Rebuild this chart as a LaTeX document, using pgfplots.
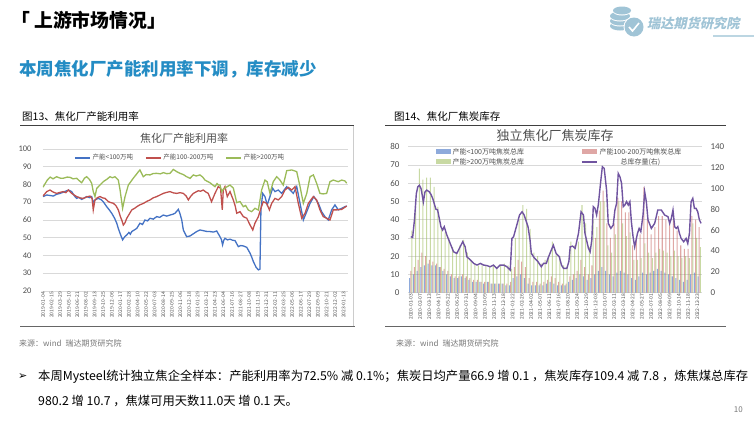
\documentclass[border=0pt]{standalone}
\usepackage{fontspec}
\setmainfont{Noto Sans CJK SC}
\newfontfamily\lat{Carlito}
\newfontfamily\dv{DejaVu Sans}
\usepackage{pgfplots}
\pgfplotsset{compat=1.18}
\usepackage{pgfplotstable}
\definecolor{subblue}{RGB}{36,140,196}
\definecolor{logoc}{RGB}{160,196,214}
\definecolor{tickgray}{RGB}{80,80,80}
\definecolor{gridgray}{RGB}{217,217,217}
\definecolor{srcgray}{RGB}{120,120,120}
\definecolor{lblue}{RGB}{68,114,196}
\definecolor{lred}{RGB}{192,80,77}
\definecolor{lgreen}{RGB}{155,187,89}
\definecolor{purp}{RGB}{112,84,160}
\pgfplotstableread{
x b r g
0 8 12 34
2 10 14 50
4 12 18 68
6 14 22 62
8 15 20 63
10 16 18 63
12 15 17 58
14 15 16 47
16 14 14 36
18 12 13 33
20 10 12 30
22 9 10 25
24 8 9 22
26 8 9 26
28 9 10 29
30 8 9 22
32 7 8 18
34 6 7 16
36 6 7 15
38 6 6 15
40 5 6 15
42 6 6 14
44 5 5 15
46 5 5 14
48 5 5 15
50 5 5 16
52 4 5 15
54 4 6 13
56 8 14 30
58 9 18 40
60 10 17 48
62 8 14 46
64 5 8 35
66 4 6 22
68 4 6 20
70 4 5 16
72 4 6 18
74 5 7 20
76 6 9 28
78 5 8 21
80 4 6 20
82 4 5 15
84 4 5 14
86 6 9 28
88 7 10 26
90 8 12 28
92 10 18 48
94 9 14 38
96 7 10 25
98 8 15 40
100 10 30 36
102 12 45 50
104 14 56 50
106 12 38 26
108 10 30 22
110 9 38 32
112 11 52 50
114 12 50 38
116 11 44 31
118 10 44 33
120 8 26 18
122 7 30 18
124 9 32 19
126 11 58 27
128 10 40 22
130 11 32 19
132 12 36 22
134 13 42 24
136 12 42 23
138 11 40 22
140 10 38 20
142 9 40 23
144 8 34 20
146 7 26 19
148 6 24 20
150 7 24 19
152 10 42 38
154 11 40 30
156 9 36 25
}\rtab
\begin{document}
\begin{tikzpicture}[x=1pt,y=1pt]
\fill[white] (0,0) rectangle (754,-421);
\path[use as bounding box] (0,0) rectangle (754,-421);
% header
\node[anchor=west,inner sep=0pt,font=\bfseries\fontsize{18.8}{20}\selectfont] at (11,-20) {「 上游市场情况」};
\node[anchor=west,inner sep=0pt,text=subblue,font=\bfseries\fontsize{17.5}{18}\selectfont] at (19,-69) {本周焦化厂产能利用率下调，库存减少};
% logo
\fill[logoc] (620,-26) ellipse (10 and 4.5);
\fill[white] (620,-22) ellipse (10 and 4.5);
\fill[logoc] (620,-21) ellipse (10 and 4.5);
\fill[white] (620,-17) ellipse (10 and 4.5);
\fill[logoc] (620,-16) ellipse (10 and 4.5);
\fill[white] (622,-11.5) ellipse (9 and 4);
\fill[logoc] (622,-10.5) ellipse (9 and 4);
\fill[white] (634,-27) circle (10.5);
\fill[logoc] (634,-27) circle (9.5);
\draw[white,line width=1.6pt] (629,-27) -- (632.5,-31) -- (639,-23);
\node[anchor=west,inner sep=0pt,text=logoc,xslant=0.2,font=\bfseries\fontsize{13.2}{14}\selectfont] at (648,-23) {瑞达期货研究院};
\fill[logoc!70] (713,-34.5) rectangle (754,-37);
% captions
\node[anchor=west,inner sep=0pt,font=\fontsize{10.5}{12}\selectfont] at (22,-117) {图13、焦化厂产能利用率};
\node[anchor=west,inner sep=0pt,font=\fontsize{10.5}{12}\selectfont] at (394,-117) {图14、焦化厂焦炭库存};
\draw[black!75,line width=0.8pt] (20,-125.5) -- (354,-125.5);
\draw[black!75,line width=0.8pt] (385,-125.5) -- (726,-125.5);
\draw[black!60,line width=1.6pt] (20,-326.5) -- (355,-326.5);
\draw[black!60,line width=1.6pt] (385,-326.5) -- (726,-326.5);
\draw[black!20,line width=0.6pt] (353.5,-126) -- (353.5,-326);
% chart titles
\node[text=tickgray,font=\fontsize{11}{12}\selectfont] at (184,-138) {焦化厂产能利用率};
\node[text=tickgray,font=\fontsize{13}{14}\selectfont] at (555,-136) {独立焦化厂焦炭库存};
% sources
\node[anchor=west,inner sep=0pt,text=srcgray,font=\fontsize{8}{9}\selectfont] at (19,-343) {来源：wind\enspace 瑞达期货研究院};
\node[anchor=west,inner sep=0pt,text=srcgray,font=\fontsize{8}{9}\selectfont] at (396,-343) {来源：wind\enspace 瑞达期货研究院};
% bottom text
\node[anchor=west,inner sep=0pt,font=\dv\fontsize{11}{12}\selectfont] at (18,-377) {➢};
\node[anchor=west,inner sep=0pt,font=\fontsize{12.3}{13}\selectfont] at (38,-377) {本周Mysteel统计独立焦企全样本：产能利用率为72.5\% 减 0.1\%；焦炭日均产量66.9 增 0.1 ，焦炭库存109.4 减 7.8 ，炼焦煤总库存};
\node[anchor=west,inner sep=0pt,font=\fontsize{12.3}{13}\selectfont] at (38,-401) {980.2 增 10.7 ，焦煤可用天数11.0天 增 0.1 天。};
\node[anchor=east,inner sep=0pt,text=srcgray,font=\fontsize{8}{9}\selectfont] at (743,-410) {10};

% ---------- left chart ----------
\begin{axis}[
  at={(43pt,-291pt)}, anchor=south west,
  width=305pt, height=142pt, scale only axis,
  xmin=0, xmax=213, ymin=20, ymax=100,
  ytick={20,30,...,100},
  xtick={0,6,...,210},
  xticklabels={2019-01-04,2019-02-15,2019-03-29,2019-05-10,2019-06-21,2019-08-02,2019-09-13,2019-10-25,2019-12-06,2020-01-17,2020-02-28,2020-04-10,2020-05-22,2020-07-03,2020-08-14,2020-09-25,2020-11-06,2020-12-18,2021-01-29,2021-03-12,2021-04-23,2021-06-04,2021-07-16,2021-08-27,2021-10-08,2021-11-19,2021-12-31,2022-02-11,2022-03-25,2022-05-06,2022-06-17,2022-07-29,2022-09-09,2022-10-21,2022-12-02,2023-01-13},
  axis line style={draw=none}, tick style={draw=none},
  ymajorgrids, grid style={gridgray,line width=0.6pt},
  /pgf/number format/assume math mode=true,
  yticklabel style={font=\lat\fontsize{8.5}{9}\selectfont,text=tickgray,xshift=-8pt},
  xticklabel style={rotate=90,anchor=east,font=\fontsize{5}{5}\selectfont,text=tickgray,inner sep=1pt},
  legend columns=3,
  legend style={draw=none,fill=none,at={(0.45,0.937)},anchor=center,
    font=\fontsize{6.5}{7}\selectfont,text=tickgray,
    /tikz/every even column/.append style={column sep=10pt}},
  legend image code/.code={\draw[#1,line width=1.4pt] (0pt,0pt) -- (15pt,0pt);},
]
\addplot[lblue,line width=1.3pt] coordinates {(0,73.2)(2.6,74.1)(5,73.8)(7.2,73.5)(9.5,74.5)(11.9,75)(14,75.6)(16.5,76.5)(18,76.8)(20,76)(22,73.5)(23.5,72.2)(25,72.8)(27,71.6)(29,72.5)(30.5,73.2)(32.5,72.6)(34,73.2)(35.1,70)(36.3,71.3)(38.6,72.2)(40.5,71.5)(42.1,70.3)(44.5,67.5)(46,66)(48,63.8)(50,61)(51.5,58.2)(52.7,55)(53.8,52.5)(55.6,48.8)(57,50.5)(58.5,51.6)(60,53)(61,52)(62,53.5)(64,54.5)(65.5,55.3)(67.7,58.2)(69.5,57.5)(71.2,60)(73,59.5)(74.7,61)(77,60.5)(79.4,61.9)(81.5,61.5)(84,62.8)(86.5,62.2)(88.7,62.8)(90.5,63.2)(92.2,63.8)(94.5,66)(95.5,64)(96.9,60)(98,54.4)(100.3,50.6)(102.7,51)(103.8,51.6)(105.5,52.5)(107.3,53.5)(109.6,54.4)(111.9,54)(114,53.6)(116.6,53.5)(119,53.2)(121.3,53.8)(123.6,50.6)(124.6,49)(125.4,46)(126.2,48.5)(127.1,49.7)(128.8,48.8)(130.6,49.2)(132.4,48.6)(134.1,48.4)(136.4,45)(138,45.6)(139.9,45.4)(142.3,44.6)(144.6,41.3)(145.8,39)(146.9,36.6)(148.8,33.4)(150.4,31.9)(151.5,32.3)(152.2,65.7)(153.4,75)(155,73.2)(156.6,68.5)(158.5,73.2)(160.4,77.9)(162,76)(164.3,76.9)(166.7,75)(168.5,77)(170.2,78.8)(172.5,76.9)(174.8,75)(177.2,78.8)(179.5,69.4)(181.8,60)(184.2,64.7)(186.5,69.4)(189.2,73.2)(192.3,69.4)(194.6,64.7)(196.9,61.9)(199.2,60)(201.6,65.7)(203.9,68.5)(206.2,65.7)(208.6,66.6)(210.9,67.5)(212.1,67.9)};
\addlegendentry{产能<100万吨}
\addplot[lred,line width=1.3pt] coordinates {(0,73.5)(2.6,76)(4.9,76.9)(7,75.8)(9.5,75)(12,75.6)(14,76)(16,75.4)(17.7,76.9)(20,75)(23.5,73.2)(26,72.4)(28.2,72.2)(30.5,73)(32.8,73.5)(34.3,72)(35.1,65.7)(36.3,71.3)(38,72.6)(39.8,73.2)(41.5,72.5)(43.3,72.2)(45.7,70.3)(47.5,69.8)(49.2,69.4)(51,68)(52.6,65.7)(54,62)(55,60)(56.1,57.2)(57.3,58.5)(58.5,61)(60,63)(62,65.7)(64,66.6)(65.5,67.5)(67.5,68.5)(70.2,69.4)(72.5,70.5)(74.7,71.3)(77,72.5)(79.4,73.2)(82,74.2)(84,75)(86,75.5)(88.7,76)(91,75.3)(93.4,75)(95.7,75.4)(98,75)(100,73.5)(101.5,71.3)(103,73.2)(105,75)(107.3,76)(108.5,76.5)(110,76.2)(111.9,76.9)(113.7,75.8)(115.4,75)(117.7,70.3)(120.1,75)(122.4,78.8)(124,77.9)(125.2,65.7)(125.9,77)(127.1,78.8)(128.7,73.2)(130.6,76)(132.9,71.3)(134.2,68)(135.3,63.8)(137.6,64.7)(139.9,61.9)(142.3,61)(144.6,57.2)(146.5,54.4)(148,58.2)(150.4,61.9)(152.2,66.6)(153.8,70.3)(156.2,69.4)(158.1,65.7)(159.7,69.4)(162,72.2)(164.3,71.3)(166.7,73.2)(169,76.9)(171.3,78.4)(173.7,76.9)(176,78.8)(178.3,69.4)(180.7,61)(183,63.8)(185.3,69.4)(188.8,73.2)(191.1,71.3)(193.4,65.7)(195.7,61.9)(198.1,61)(200.4,60)(202.7,65.7)(205.1,65.7)(208.6,66)(212.1,67.9)};
\addlegendentry{产能100-200万吨}
\addplot[lgreen,line width=1.3pt] coordinates {(0,78.5)(1.5,80.5)(3,82.5)(5,84.2)(7,83.2)(9.5,84.4)(12,83.6)(14,83.5)(17,84.2)(19,84)(21,83.2)(23.5,83.5)(25,82.4)(27,81)(29,83.6)(30.5,84.4)(32.5,82.8)(34,80.7)(35.1,76)(36.3,73.2)(37.5,77.8)(39.8,79.7)(42.1,81.6)(44.5,82.9)(46.8,84.4)(48.5,83.8)(50.3,84.4)(52.6,82.5)(53.8,77)(55.6,66.6)(57.3,73.2)(59.6,79.7)(61.5,81.8)(63,83.5)(65,85.5)(66.6,87.2)(67.7,88.2)(70,84.4)(72,85.6)(74.7,85.4)(77,86.2)(79.4,86.3)(82,86)(84,86.7)(86.5,86.1)(88.7,86.3)(91,88.5)(93.5,87.2)(95.7,86.3)(98,85.6)(100.3,84.4)(102.7,83.5)(105,85.4)(107,84.8)(109.6,85.4)(111.5,84.2)(113.1,82.5)(116.6,81)(118.5,79.8)(120.1,78.8)(121.5,80.5)(122.5,79.7)(123.6,79.7)(124.8,76)(125.9,77.3)(128,78.5)(130.6,79.7)(132.9,78)(135.3,69.8)(137.6,70.4)(139.9,67.5)(141.5,68.2)(143.4,65.6)(145.7,64.7)(148,66.6)(150.4,65.6)(152.7,77)(155,82.5)(156.6,81.5)(158.5,75)(160.8,81.6)(163.2,84.4)(165.5,82.5)(167.8,79.7)(170.2,87.8)(173.7,88.2)(176,87.6)(177.2,87.2)(179.5,78.8)(181.8,69.4)(184.2,75)(186.5,84.4)(188.8,85.4)(191.1,80.7)(193.4,75)(195.7,74.7)(198.1,75)(200.4,81.6)(202.7,82.5)(206.2,81.6)(208.6,82.5)(210.9,82)(212.1,80.7)};
\addlegendentry{产能>200万吨}
\end{axis}

% ---------- right chart, bars ----------
\begin{axis}[
  at={(408pt,-292.7pt)}, anchor=south west,
  width=294pt, height=146pt, scale only axis,
  xmin=-1.5, xmax=157.5, ymin=0, ymax=80,
  ytick={0,10,...,80},
  xtick={0,5,...,155},
  xticklabels={2020-01-03,2020-02-07,2020-03-13,2020-04-17,2020-05-22,2020-06-26,2020-07-31,2020-09-04,2020-10-09,2020-11-13,2020-12-18,2021-01-22,2021-02-26,2021-04-02,2021-05-07,2021-06-11,2021-07-16,2021-08-20,2021-09-24,2021-10-29,2021-12-03,2022-01-07,2022-02-11,2022-03-18,2022-04-22,2022-05-27,2022-07-01,2022-08-05,2022-09-09,2022-10-14,2022-11-18,2022-12-23},
  axis line style={draw=none}, tick style={draw=none},
  ymajorgrids, grid style={gridgray,line width=0.6pt},
  /pgf/number format/assume math mode=true,
  yticklabel style={font=\lat\fontsize{9}{9}\selectfont,text=tickgray,xshift=-5pt},
  xticklabel style={rotate=90,anchor=east,font=\fontsize{5}{5}\selectfont,text=tickgray,inner sep=1pt},
  legend columns=2,
  legend style={draw=none,fill=none,at={(0.515,0.93)},anchor=center,
    font=\fontsize{7}{7.5}\selectfont,text=tickgray,row sep=-1.5pt,
    /tikz/every even column/.append style={column sep=55pt}},
]
\addplot[ybar,bar width=0.55,bar shift=-0.6,fill=lblue,draw=none,fill opacity=0.6,
  legend image code/.code={\fill[lblue] (0pt,-2.5pt) rectangle (15pt,2.5pt);}] table[x=x,y=b] {\rtab};
\addlegendentry{产能<100万吨焦炭总库}
\addplot[ybar,bar width=0.55,bar shift=0,fill=lred,draw=none,fill opacity=0.5,
  legend image code/.code={\fill[lred] (0pt,-2.5pt) rectangle (15pt,2.5pt);}] table[x=x,y=r] {\rtab};
\addlegendentry{产能100-200万吨焦炭总库}
\addplot[ybar,bar width=0.55,bar shift=0.6,fill=lgreen,draw=none,fill opacity=0.55,
  legend image code/.code={\fill[lgreen] (0pt,-2.5pt) rectangle (15pt,2.5pt);}] table[x=x,y=g] {\rtab};
\addlegendentry{产能>200万吨焦炭总库}
\addlegendimage{purp,line width=1.5pt,legend image code/.code={\draw[purp,line width=1.5pt] (0pt,0pt) -- (15pt,0pt);}}
\addlegendentry{总库存量(右)}
\end{axis}

% ---------- right chart, line on right axis ----------
\begin{axis}[
  at={(408pt,-292.7pt)}, anchor=south west,
  width=294pt, height=146pt, scale only axis,
  xmin=-1.5, xmax=157.5, ymin=0, ymax=140,
  ytick={0,20,...,140},
  axis y line*=right, axis x line=none,
  axis line style={draw=none}, tick style={draw=none},
  /pgf/number format/assume math mode=true,
  yticklabel style={font=\lat\fontsize{9}{9}\selectfont,text=tickgray,xshift=5pt},
]
\addplot[purp,line width=1.4pt] coordinates {(0,53.7)(1,53)(2,70)(3,95)(3.8,101.6)(4.7,103)(5.6,99.6)(6.8,87)(7.7,96.8)(8.6,98.4)(10,96.8)(11,94)(12,89.6)(13.6,80)(14.5,79.5)(16.3,63.3)(17.2,60.1)(18.1,63.3)(19.5,55.3)(21.3,47.3)(23.1,39.3)(24.9,37.7)(26.7,44)(28.1,48.9)(29.4,44)(30.3,34.5)(32.3,31.3)(34,28.1)(35.8,26.5)(37.6,28.1)(39.4,26.5)(41.2,26)(42.9,24.9)(44.7,26.5)(46.5,23.3)(48.3,26.5)(50.2,26.5)(52,24.9)(53.8,21.7)(54.7,52)(55.6,53.7)(57.6,66.5)(58.8,74.5)(60.2,77.6)(61.3,74.5)(63.4,63.3)(64.5,50.5)(65.2,37.7)(67,32.9)(68.8,29.7)(70.6,24.9)(71.8,28.1)(73.3,28.1)(74.2,32.9)(75.8,40)(77.1,45.6)(78.6,37.7)(80.3,34.5)(81.5,26.5)(82.6,23.3)(84.4,23.3)(85.5,30)(86.2,44)(87.5,44.7)(88.9,42.5)(90.7,56.9)(92.1,77.6)(93.4,74.5)(94.2,56.9)(96.1,42.5)(97,39.3)(97.9,50.5)(98.7,82.5)(99.6,80.9)(100.5,74.5)(101.4,84.1)(102.8,108)(103.6,120.8)(104.6,119.2)(105.9,98.4)(106.8,66.5)(108.2,61.7)(109.5,64.9)(110.4,79.3)(111.3,85.7)(112.2,114.4)(113.1,111.2)(114,104.8)(114.9,82.5)(115.8,84.1)(116.7,87.3)(117.6,84.1)(118.5,87.3)(119.3,68.1)(120.2,53.7)(121.1,44)(122.6,56.9)(123.5,61.7)(124.4,58.5)(125.6,74.5)(126.5,96.8)(127.4,87.3)(128.3,69.7)(130.1,61.7)(131.9,66.5)(133.6,79.3)(135.5,79.3)(137.3,74.5)(139.1,72.9)(140,66.5)(140.9,71.3)(141.8,79.3)(142.7,63.3)(143.6,61.7)(144.4,63.3)(145.3,56.9)(146.2,52.1)(147.6,48.9)(148.9,52.1)(149.8,47.3)(150.7,56.9)(151.6,87.3)(152.5,90.5)(153.4,80.9)(154.3,80.9)(155.2,77.6)(156.1,69.7)(157,66.5)};
\end{axis}
\end{tikzpicture}
\end{document}
